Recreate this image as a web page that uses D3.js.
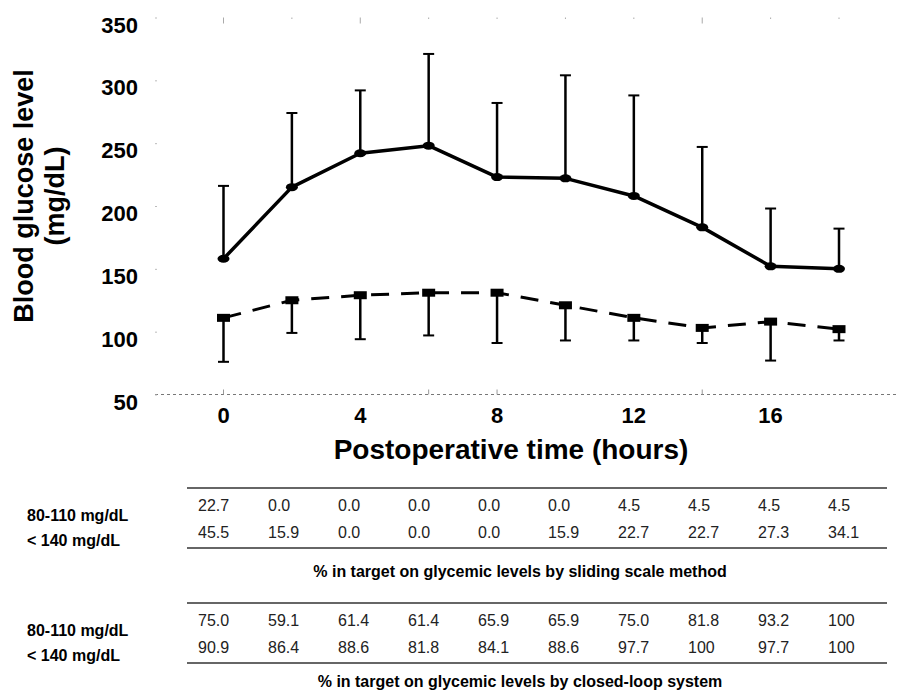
<!DOCTYPE html>
<html>
<head>
<meta charset="utf-8">
<script src="https://cdnjs.cloudflare.com/ajax/libs/d3/7.8.5/d3.min.js"></script>
<style>
  body { margin: 0; background: #fff; }
  text { font-family: "Liberation Sans", Arial, sans-serif; }
</style>
</head>
<body>
<div id="chart"></div>
<script>
// time points (hours)
const hours = [0, 2, 4, 6, 8, 10, 12, 14, 16, 18]
// sliding scale method: mean and mean+SD
const slidingMean  = [158, 215, 242, 248, 223, 222, 208, 183, 152, 150]
const slidingUpper = [216, 274, 292, 321, 282, 304, 288, 247, 198, 182]
// closed-loop system: mean and mean-SD
const closedMean  = [111, 125, 129, 131, 131, 121, 111, 103, 108, 102]
const closedLower = [76, 99, 94, 97, 91, 93, 93, 91, 77, 93]

const yTicks = [50, 100, 150, 200, 250, 300, 350]
const xTickLabels = [0, 4, 8, 12, 16]
const topMajorTicks = [0, 4, 14]
const bottomTicks = [0, 6, 8, 14]

// % in target tables
const rowLabels = ["80-110 mg/dL", "< 140 mg/dL"]
const slidingTarget80_110 = [22.7, 0.0, 0.0, 0.0, 0.0, 0.0, 4.5, 4.5, 4.5, 4.5]
const slidingTarget140    = [45.5, 15.9, 0.0, 0.0, 0.0, 15.9, 22.7, 22.7, 27.3, 34.1]
const closedTarget80_110  = [75.0, 59.1, 61.4, 61.4, 65.9, 65.9, 75.0, 81.8, 93.2, 100]
const closedTarget140     = [90.9, 86.4, 88.6, 81.8, 84.1, 88.6, 97.7, 100, 97.7, 100]
const captions = [
  "% in target on glycemic levels by sliding scale method",
  "% in target on glycemic levels by closed-loop system"
]

const width = 899
const height = 692

const svg = d3.select("#chart").append("svg")
  .attr("width", width)
  .attr("height", height)

const x = d3.scaleLinear().domain([0, 18]).range([223.5, 839])
const y = d3.scaleLinear().domain([50, 350]).range([394.5, 17.5])

// baseline dashed line
svg.append("line")
  .attr("x1", 155).attr("x2", width)
  .attr("y1", y(50)).attr("y2", y(50))
  .attr("stroke", "#777").attr("stroke-width", 1)
  .attr("stroke-dasharray", "3,3")

svg.selectAll(".btick").data(bottomTicks).enter().append("line")
  .attr("x1", d => x(d)).attr("x2", d => x(d))
  .attr("y1", y(50) - 5).attr("y2", y(50))
  .attr("stroke", "#999").attr("stroke-width", 1)

// faint top ticks
svg.selectAll(".ttick").data(hours).enter().append("line")
  .attr("x1", d => x(d)).attr("x2", d => x(d))
  .attr("y1", y(350))
  .attr("y2", d => y(350) + (topMajorTicks.includes(d) ? 6 : 1.5))
  .attr("stroke", "#aaa").attr("stroke-width", 1)

// y axis: no domain line, tiny ticks
const yAxis = svg.append("g")
  .attr("transform", "translate(157,0)")
  .call(d3.axisLeft(y).tickValues(yTicks).tickSize(2).tickPadding(17))
yAxis.select(".domain").remove()
yAxis.selectAll(".tick line").attr("stroke", "#bbb")
yAxis.selectAll(".tick text")
  .attr("dy", "0.66em")
  .style("font-family", "Liberation Sans, Arial, sans-serif")
  .style("font-size", "22px")
  .style("font-weight", "bold")
  .style("fill", "#000")

// x tick labels
svg.selectAll(".xlab").data(xTickLabels).enter().append("text")
  .attr("x", d => x(d))
  .attr("y", 423)
  .attr("text-anchor", "middle")
  .style("font-size", "22px")
  .style("font-weight", "bold")
  .text(d => d)

svg.append("text")
  .attr("x", 511).attr("y", 459)
  .attr("text-anchor", "middle")
  .style("font-size", "28px")
  .style("font-weight", "bold")
  .text("Postoperative time (hours)")

const ytitle = svg.append("text")
  .attr("transform", "translate(0,196) rotate(-90)")
  .attr("text-anchor", "middle")
  .style("font-size", "27px")
  .style("font-weight", "bold")
ytitle.append("tspan").attr("x", 0).attr("y", 33).text("Blood glucose level")
ytitle.append("tspan").attr("x", 0).attr("y", 64).text("(mg/dL)")

// sliding scale series
const sliding = hours.map((h, i) => ({h, m: slidingMean[i], e: slidingUpper[i]}))
const closed = hours.map((h, i) => ({h, m: closedMean[i], e: closedLower[i]}))

function errorBars(data, cls) {
  const g = svg.append("g").attr("class", cls)
  g.selectAll("line.v").data(data).enter().append("line")
    .attr("class", "v")
    .attr("x1", d => x(d.h)).attr("x2", d => x(d.h))
    .attr("y1", d => y(d.m)).attr("y2", d => y(d.e))
    .attr("stroke", "#000").attr("stroke-width", 2.5)
  g.selectAll("line.c").data(data).enter().append("line")
    .attr("class", "c")
    .attr("x1", d => x(d.h) - 5.5).attr("x2", d => x(d.h) + 5.5)
    .attr("y1", d => y(d.e)).attr("y2", d => y(d.e))
    .attr("stroke", "#000").attr("stroke-width", 2)
}

errorBars(sliding, "sbars")
errorBars(closed, "cbars")

const line = d3.line().x(d => x(d.h)).y(d => y(d.m))

svg.append("path").datum(sliding)
  .attr("d", line)
  .attr("fill", "none").attr("stroke", "#000")
  .attr("stroke-width", 3.5).attr("stroke-linejoin", "round")

svg.append("path").datum(closed)
  .attr("d", line)
  .attr("fill", "none").attr("stroke", "#000")
  .attr("stroke-width", 3).attr("stroke-dasharray", "18,12")

svg.selectAll(".dot").data(sliding).enter().append("ellipse")
  .attr("cx", d => x(d.h)).attr("cy", d => y(d.m))
  .attr("rx", 6).attr("ry", 4)
  .attr("fill", "#000")

svg.selectAll(".sq").data(closed).enter().append("rect")
  .attr("x", d => x(d.h) - 6.5).attr("y", d => y(d.m) - 4)
  .attr("width", 13).attr("height", 8)
  .attr("fill", "#000")

// tables
const tx = d3.scalePoint().domain(hours).range([198, 828])
const fmt = v => v === 100 ? "100" : v.toFixed(1)

const tables = [
  {top: 488, rows: [slidingTarget80_110, slidingTarget140], caption: captions[0], capY: 577},
  {top: 603, rows: [closedTarget80_110, closedTarget140], caption: captions[1], capY: 687}
]

tables.forEach(t => {
  const g = svg.append("g")
  g.append("line").attr("x1", 187).attr("x2", 887)
    .attr("y1", t.top).attr("y2", t.top)
    .attr("stroke", "#333").attr("stroke-width", 1.5)
  g.append("line").attr("x1", 187).attr("x2", 887)
    .attr("y1", t.top + 60).attr("y2", t.top + 60)
    .attr("stroke", "#333").attr("stroke-width", 1.5)

  t.rows.forEach((vals, r) => {
    g.append("text")
      .attr("x", 27).attr("y", t.top + 33 + r * 25)
      .style("font-size", "16px").style("font-weight", "bold")
      .text(rowLabels[r])
    g.selectAll(".v" + r).data(vals).enter().append("text")
      .attr("x", (d, i) => tx(hours[i]))
      .attr("y", t.top + 23 + r * 27)
      .style("font-size", "16px")
      .style("fill", "#222")
      .text(d => fmt(d))
  })

  g.append("text")
    .attr("x", 520).attr("y", t.capY)
    .attr("text-anchor", "middle")
    .style("font-size", "16px").style("font-weight", "bold")
    .text(t.caption)
})
</script>
</body>
</html>
